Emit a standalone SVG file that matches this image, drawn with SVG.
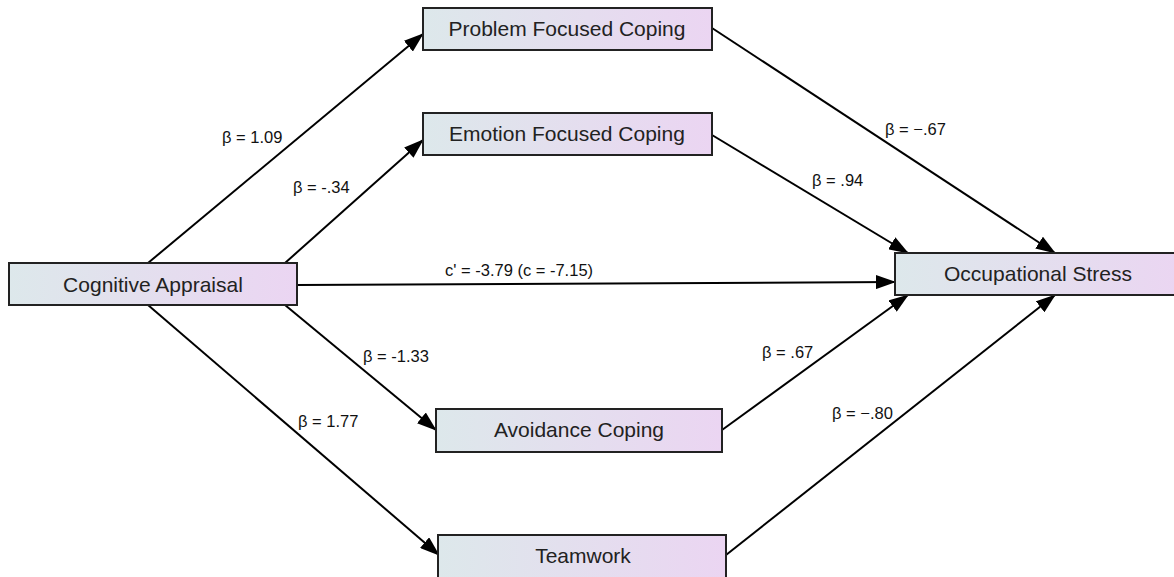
<svg xmlns="http://www.w3.org/2000/svg" width="1174" height="577" viewBox="0 0 1174 577">
<defs>
<linearGradient id="g" x1="0" y1="0" x2="1" y2="0">
<stop offset="0" stop-color="#dde8eb"/>
<stop offset="1" stop-color="#ebd5f2"/>
</linearGradient>
<marker id="ah" viewBox="0 0 20 14" refX="19" refY="7" markerWidth="20" markerHeight="14" markerUnits="userSpaceOnUse" orient="auto">
<path d="M0,0 L20,7 L0,14 z" fill="#000"/>
</marker>
</defs>
<style>
.n rect{fill:url(#g);stroke:#222;stroke-width:2}
.n text{font-family:"Liberation Sans",Arial,sans-serif;font-size:21px;fill:#222;text-anchor:middle}
.c line{stroke:#000;stroke-width:2;marker-end:url(#ah)}
.l{font-family:"Liberation Sans",Arial,sans-serif;font-size:16.5px;fill:#111}
</style>
<rect width="1174" height="577" fill="#fff"/>
<g id="connectors" class="c">
<line x1="148" y1="263" x2="423" y2="34"/>
<line x1="285" y1="263" x2="423" y2="140"/>
<line x1="297" y1="285" x2="895" y2="282"/>
<line x1="285" y1="305" x2="436" y2="430"/>
<line x1="148" y1="305" x2="439" y2="555"/>
<line x1="712" y1="28" x2="1055" y2="253"/>
<line x1="712" y1="135" x2="908" y2="253"/>
<line x1="722" y1="430" x2="908" y2="295"/>
<line x1="726" y1="555" x2="1055" y2="295"/>
</g>
<g id="n-ca" class="n"><rect x="9" y="263" width="288" height="42"/><text x="153" y="292">Cognitive Appraisal</text></g>
<g id="n-pfc" class="n"><rect x="423" y="8" width="289" height="42"/><text x="567" y="36">Problem Focused Coping</text></g>
<g id="n-efc" class="n"><rect x="423" y="113" width="289" height="42"/><text x="567" y="141">Emotion Focused Coping</text></g>
<g id="n-os" class="n"><rect x="895" y="253" width="292" height="42"/><text x="1038" y="281">Occupational Stress</text></g>
<g id="n-ac" class="n"><rect x="436" y="409" width="286" height="43"/><text x="579" y="437">Avoidance Coping</text></g>
<g id="n-tw" class="n"><rect x="438" y="535" width="288" height="50"/><text x="583" y="563">Teamwork</text></g>
<g id="labels">
<text class="l" x="222" y="143">β = 1.09</text>
<text class="l" x="293" y="193">β = -.34</text>
<text class="l" x="445" y="276">c' = -3.79 (c = -7.15)</text>
<text class="l" x="885" y="135">β = −.67</text>
<text class="l" x="812" y="186">β = .94</text>
<text class="l" x="363" y="362">β = -1.33</text>
<text class="l" x="298" y="427">β = 1.77</text>
<text class="l" x="762" y="358">β = .67</text>
<text class="l" x="832" y="419">β = −.80</text>
</g>
</svg>
